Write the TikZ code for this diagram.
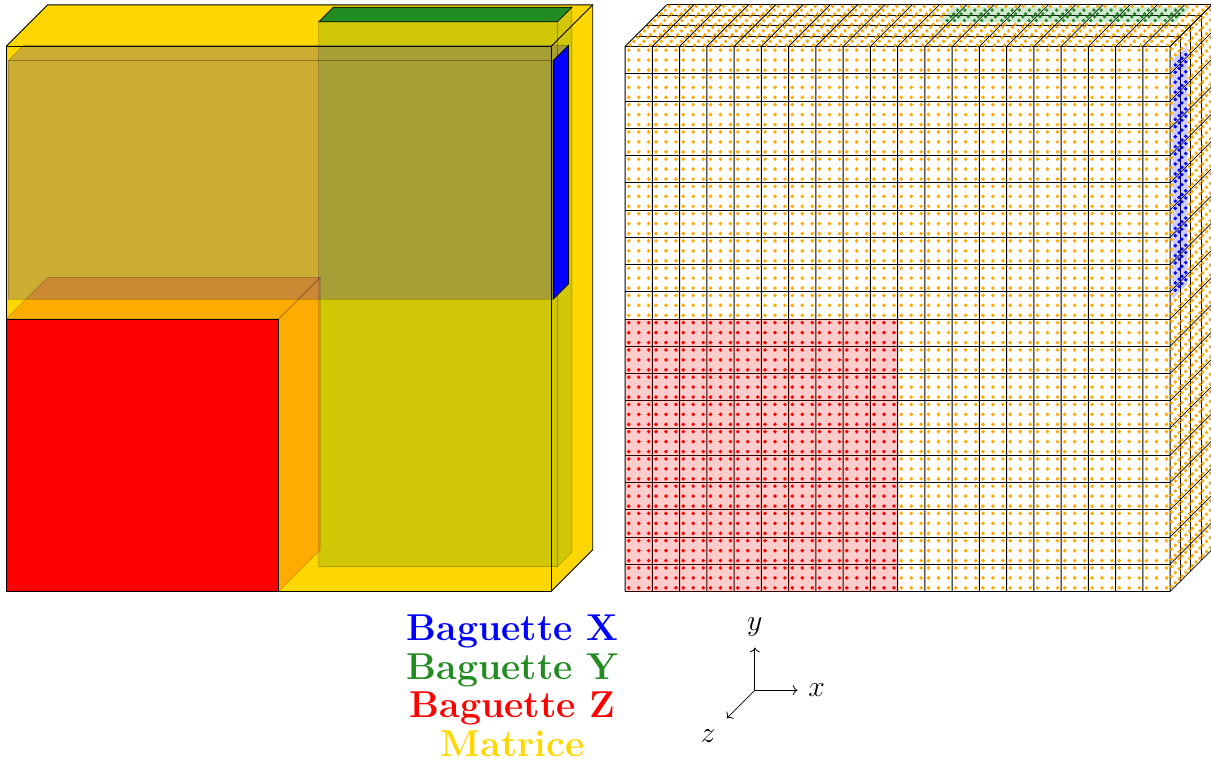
\documentclass[tikz,border=0pt]{standalone}
\usetikzlibrary{positioning, arrows.meta}

\definecolor{matrice}{RGB}{255,215,0}
\definecolor{bagx}{RGB}{0,0,255}
\definecolor{bagy}{RGB}{34,139,34}
\definecolor{bagz}{RGB}{255,0,0}
\definecolor{dotorange}{RGB}{255,170,0}

\begin{document}
\begin{tikzpicture}[
    x=1cm, y=1cm, z={(-.3817,-.3817)},
    edge/.style={black, line width=.9pt},
    face/.style={draw=black, line width=.8pt, opacity=.2},
    endface/.style={draw=black, line width=.8pt},
    legend/.style={scale=1.57, inner sep=0pt, text height=22.4pt, text depth=.5pt, font=\Huge\bfseries},
    axis/.style={-{To[scale=1.5]}, line width=.8pt},
    axlabel/.style={scale=1.25, inner sep=0pt, font=\Huge}
]
\useasboundingbox (-1.75,-7.71) rectangle (42.69,20.18);

% Solid block
\fill[matrice] (0,0,4) -- (20,0,4) -- (20,0,0) -- (20,20,0) -- (0,20,0) -- (0,20,4) -- cycle;

% Baguette Y
\filldraw[face, fill=bagy] (10.57,0,1.63) -- (19.32,0,1.63) -- (19.32,20,1.63) -- (10.57,20,1.63) -- cycle;
\filldraw[face, fill=bagy] (19.32,0,1.63) -- (19.32,0,.22) -- (19.32,20,.22) -- (19.32,20,1.63) -- cycle;
\filldraw[endface, fill=bagy] (10.57,20,1.63) -- (19.32,20,1.63) -- (19.32,20,.22) -- (10.57,20,.22) -- cycle;

% Baguette Z
\filldraw[face, fill=bagz] (0,10,4) -- (10,10,4) -- (10,10,0) -- (0,10,0) -- cycle;
\filldraw[face, fill=bagz] (10,0,4) -- (10,0,0) -- (10,10,0) -- (10,10,4) -- cycle;
\filldraw[endface, fill=bagz] (0,0,4) rectangle (10,10,4);

% Baguette X
\filldraw[face, fill=bagx] (0,10.65,3.78) -- (20,10.65,3.78) -- (20,19.4,3.78) -- (0,19.4,3.78) -- cycle;
\filldraw[face, fill=bagx] (0,19.4,3.78) -- (20,19.4,3.78) -- (20,19.4,2.32) -- (0,19.4,2.32) -- cycle;
\filldraw[endface, fill=bagx] (20,10.65,3.78) -- (20,10.65,2.32) -- (20,19.4,2.32) -- (20,19.4,3.78) -- cycle;

% Edges of the block
\draw[edge] (0,0,4) rectangle (20,20,4);
\draw[edge] (0,20,4) -- (0,20,0) -- (20,20,0) -- (20,0,0) -- (20,0,4);
\draw[edge] (20,20,4) -- (20,20,0);

% Meshed block
\begin{scope}[xshift=22.716cm]
\foreach \i in {0,...,20} {
    \draw[edge] (\i,0,4) -- (\i,20,4) -- (\i,20,0);
    \draw[edge] (20,\i,4) -- (20,\i,0);
    \draw[edge] (0,\i,4) -- (20,\i,4);
}
\foreach \k in {0,...,3} {
    \draw[edge] (0,20,\k) -- (20,20,\k) -- (20,0,\k);
}
\fill[bagz, opacity=.2] (0,0,4) rectangle (10,10,4);
\fill[bagx, opacity=.2] (20,10.65,3.78) -- (20,10.65,2.32) -- (20,19.4,2.32) -- (20,19.4,3.78) -- cycle;
\fill[bagy, opacity=.2] (10.57,20,1.63) -- (19.32,20,1.63) -- (19.32,20,.22) -- (10.57,20,.22) -- cycle;

% Points
\foreach \a in {.134,.5,.866} \foreach \b in {.134,.5,.866} {
    \foreach \i in {0,...,19} \foreach \j in {0,...,19} {
        \pgfmathsetmacro\dotx{\i+\a}
        \pgfmathsetmacro\doty{\j+\b}
        \pgfmathparse{and(\dotx<10,\doty<10) ? "bagz" : "dotorange"}
        \edef\dotcol{\pgfmathresult}
        \fill[\dotcol] (\dotx,\doty,4) circle (.07);
    }
    \foreach \i in {0,...,19} \foreach \k in {0,...,3} {
        \pgfmathsetmacro\dotx{\i+\a}
        \pgfmathsetmacro\dotz{\k+\b}
        \pgfmathparse{and(and(\dotx>10.57,\dotx<19.32),and(\dotz>.22,\dotz<1.63)) ? "bagy" : "dotorange"}
        \edef\dotcol{\pgfmathresult}
        \fill[\dotcol] (\dotx,20,\dotz) circle (.07);
        \pgfmathsetmacro\doty{\i+\a}
        \pgfmathparse{and(and(\doty>10.65,\doty<19.4),and(\dotz>2.32,\dotz<3.78)) ? "bagx" : "dotorange"}
        \edef\dotcol{\pgfmathresult}
        \fill[\dotcol] (20,\doty,\dotz) circle (.07);
    }
}
\end{scope}

% Legend
\node[legend, bagx, anchor=base] (legx) at (17.06,-3.314) {Baguette X};
\node[legend, bagy, below=4pt of legx] (legy) {Baguette Y};
\node[legend, bagz, below=4pt of legy] (legz) {Baguette Z};
\node[legend, matrice, below=4pt of legz] (legm) {Matrice};

% Axes
\coordinate (axo) at (25.95,-5.149);
\coordinate[right=1.567cm of axo] (xtip);
\coordinate[above=1.567cm of axo] (ytip);
\coordinate[below left=1.028cm and 1.028cm of axo] (ztip);
\node[axlabel, right=11pt of xtip] (xlab) {$x$};
\node[axlabel, above=11pt of ytip] (ylab) {$y$};
\node[axlabel, below left=11.5pt and 11.5pt of ztip] (zlab) {$z$};
\draw[axis] (axo) -- (xtip);
\draw[axis] (axo) -- (ytip);
\draw[axis] (axo) -- (ztip);
\end{tikzpicture}
\end{document}
